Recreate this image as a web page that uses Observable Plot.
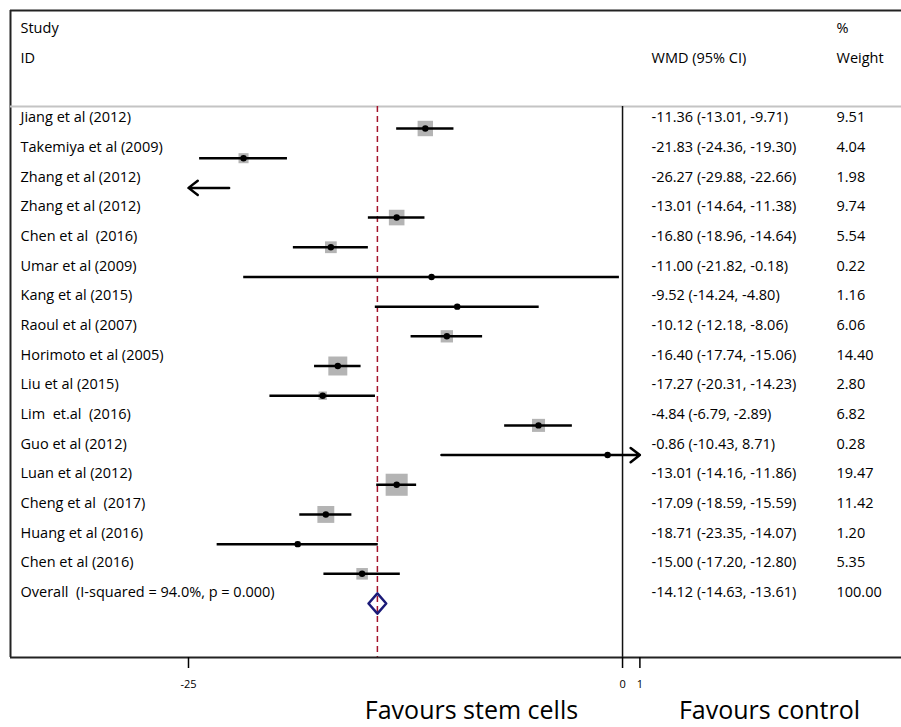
<!DOCTYPE html>
<html>
<head>
<meta charset="utf-8">
<script src="https://cdn.jsdelivr.net/npm/d3@7"></script>
<script src="https://cdn.jsdelivr.net/npm/@observablehq/plot@0.6"></script>
<style>
  html, body { margin: 0; padding: 0; background: #fff; }
</style>
</head>
<body>
<div id="chart"></div>
<script>
// ---- Data ----
const studies = [
  "Jiang et al (2012)", "Takemiya et al (2009)", "Zhang et al (2012)", "Zhang et al (2012)",
  "Chen et al  (2016)", "Umar et al (2009)", "Kang et al (2015)", "Raoul et al (2007)",
  "Horimoto et al (2005)", "Liu et al (2015)", "Lim  et.al  (2016)", "Guo et al (2012)",
  "Luan et al (2012)", "Cheng et al  (2017)", "Huang et al (2016)", "Chen et al (2016)"
];
const wmd = [-11.36, -21.83, -26.27, -13.01, -16.80, -11.00, -9.52, -10.12, -16.40, -17.27, -4.84, -0.86, -13.01, -17.09, -18.71, -15.00];
const ciLow = [-13.01, -24.36, -29.88, -14.64, -18.96, -21.82, -14.24, -12.18, -17.74, -20.31, -6.79, -10.43, -14.16, -18.59, -23.35, -17.20];
const ciHigh = [-9.71, -19.30, -22.66, -11.38, -14.64, -0.18, -4.80, -8.06, -15.06, -14.23, -2.89, 8.71, -11.86, -15.59, -14.07, -12.80];
const weights = [9.51, 4.04, 1.98, 9.74, 5.54, 0.22, 1.16, 6.06, 14.40, 2.80, 6.82, 0.28, 19.47, 11.42, 1.20, 5.35];
const overallLabel = "Overall  (I-squared = 94.0%, p = 0.000)";
const overallWmd = -14.12, overallLow = -14.63, overallHigh = -13.61, overallWeight = 100.00;
const xTicks = [-25, 0, 1];
const xMin = -25, xMax = 1;
const headerLeft = ["Study", "ID"];
const headerMid = "WMD (95% CI)";
const headerRight = ["%", "Weight"];
const favourLabels = ["Favours stem cells", "Favours control"];

// ---- Layout helpers (pixel <-> data) ----
const W = 901, H = 727;
const xRange = [188, 639.4], yDomain = [0, 16], yRange = [128, 603];
const X = d3.scaleLinear().domain([xMin, xMax]).range(xRange);
const Y = d3.scaleLinear().domain(yDomain).range(yRange);
const px = p => X.invert(p), py = p => Y.invert(p);
const f2 = v => v.toFixed(2);

const rows = studies.map((s, i) => ({
  i, study: s, wmd: wmd[i], lo: ciLow[i], hi: ciHigh[i], w: weights[i],
  ci: `${f2(wmd[i])} (${f2(ciLow[i])}, ${f2(ciHigh[i])})`, wt: f2(weights[i])
}));
const nRow = studies.length; // overall row index
const textRows = [...rows, {
  i: nRow, study: overallLabel,
  ci: `${f2(overallWmd)} (${f2(overallLow)}, ${f2(overallHigh)})`, wt: f2(overallWeight)
}];

const inRange = rows.filter(d => d.wmd >= xMin && d.wmd <= xMax);
const plainCI = rows.filter(d => d.lo >= xMin && d.hi <= xMax);
const leftArrows = rows.filter(d => d.lo < xMin).map(d => ({ y: d.i, x1: Math.min(d.hi, xMax), x2: xMin }));
const rightArrows = rows.filter(d => d.hi > xMax).map(d => ({ y: d.i, x1: Math.max(d.lo, xMin), x2: xMax }));

const dh = 0.34;
const diamond = [
  { x: overallLow, y: nRow }, { x: overallWmd, y: nRow - dh },
  { x: overallHigh, y: nRow }, { x: overallWmd, y: nRow + dh }, { x: overallLow, y: nRow }
];

const font = "'Open Sans', 'Noto Sans', sans-serif";
const fs = 14.5;

const chart = Plot.plot({
  width: W, height: H,
  marginTop: 10, marginLeft: 10, marginRight: 0, marginBottom: 70,
  style: { fontFamily: font, fontSize: fs + "px", color: "#000", background: "#fff" },
  x: { domain: [xMin, xMax], range: xRange, label: null },
  y: { domain: yDomain, range: yRange, axis: null },
  r: { type: "sqrt", domain: [0, 1], range: [0, 5 / Math.sqrt(Math.PI)] },
  marks: [
    // box lines
    Plot.ruleY([py(10)], { x1: px(10), x2: px(W + 5), stroke: "#222", strokeWidth: 2 }),
    Plot.ruleX([px(10)], { y1: py(10), y2: py(657), stroke: "#222", strokeWidth: 2 }),
    Plot.ruleY([py(106)], { x1: px(10), x2: px(W + 5), stroke: "#c4c4c4", strokeWidth: 2 }),
    // null line and overall line
    Plot.ruleX([0], { y1: py(106), y2: py(657), stroke: "#111", strokeWidth: 1.5 }),
    Plot.ruleX([overallWmd], { y1: py(106), y2: py(657), stroke: "#a3132a", strokeWidth: 1.5, strokeDasharray: "6,4" }),
    // weight squares
    Plot.dot(inRange, { x: "wmd", y: "i", r: "w", symbol: "square", fill: "#b4b4b4", stroke: "none" }),
    // CI lines
    Plot.ruleY(plainCI, { y: "i", x1: "lo", x2: "hi", stroke: "#000", strokeWidth: 2.5 }),
    Plot.arrow(leftArrows, { x1: "x1", x2: "x2", y1: "y", y2: "y", stroke: "#000", strokeWidth: 2.5, headLength: 7, headAngle: 75 }),
    Plot.arrow(rightArrows, { x1: "x1", x2: "x2", y1: "y", y2: "y", stroke: "#000", strokeWidth: 2.5, headLength: 7, headAngle: 75 }),
    // point estimates
    Plot.dot(inRange, { x: "wmd", y: "i", r: 3.2, fill: "#000", stroke: "none" }),
    // overall diamond
    Plot.line(diamond, { x: "x", y: "y", stroke: "#1b1a78", strokeWidth: 2.5, curve: "linear" }),
    // bottom axis line
    Plot.ruleY([py(657)], { x1: px(10), x2: px(W + 5), stroke: "#222", strokeWidth: 2 }),
    Plot.axisX({ ticks: xTicks, tickSize: 11, tickPadding: 12, tickFormat: d => String(d), fontSize: 11, strokeWidth: 1.5 }),
    // header texts
    Plot.text(headerLeft, { x: px(20), y: (d, k) => py(28 + 30 * k), text: d => d, textAnchor: "start", fill: "#000" }),
    Plot.text([headerMid], { x: px(651), y: py(58), text: d => d, textAnchor: "start", fill: "#000" }),
    Plot.text(headerRight, { x: px(836), y: (d, k) => py(28 + 30 * k), text: d => d, textAnchor: "start", fill: "#000" }),
    // row texts
    Plot.text(textRows, { x: px(20), y: "i", dy: -11, text: "study", textAnchor: "start", fill: "#000" }),
    Plot.text(textRows, { x: px(651), y: "i", dy: -11, text: "ci", textAnchor: "start", fill: "#000" }),
    Plot.text(textRows, { x: px(836), y: "i", dy: -11, text: "wt", textAnchor: "start", fill: "#000" }),
    // favours labels
    Plot.text(favourLabels, { x: (d, k) => px([471, 769][k]), y: py(710), text: d => d, fontSize: 25, textAnchor: "middle", fill: "#000" })
  ]
});
document.getElementById("chart").appendChild(chart);
</script>
</body>
</html>
